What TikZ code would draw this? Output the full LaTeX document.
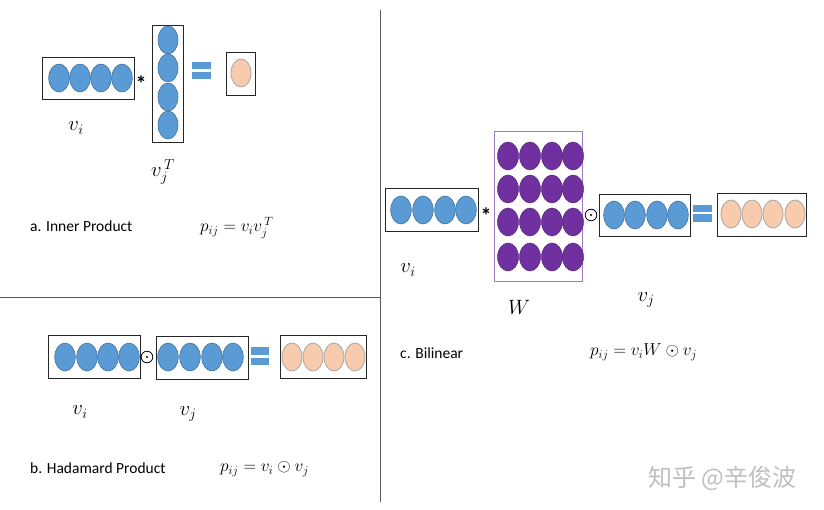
\documentclass[tikz,border=0pt]{standalone}
\usepackage{fontspec}
\setmainfont{Carlito}
\newfontfamily\cjk{Noto Sans CJK SC}
\definecolor{ballblue}{HTML}{5B9BD5}
\definecolor{edgeblue}{HTML}{41719C}
\definecolor{ballorange}{HTML}{F8CBAD}
\definecolor{edgeorange}{HTML}{A6A6A6}
\definecolor{ballpurple}{HTML}{7030A0}
\definecolor{boxpurple}{HTML}{9E7CC1}
\definecolor{linegray}{HTML}{595959}
\tikzset{
  vecbox/.style={draw=black!85, line width=0.9pt},
  wbox/.style={draw=boxpurple, line width=1pt},
  blueball/.style={fill=ballblue, draw=edgeblue, line width=0.6pt},
  orangeball/.style={fill=ballorange, draw=edgeorange, line width=0.8pt},
  purpleball/.style={fill=ballpurple, draw=ballpurple!80!black, line width=0.5pt},
  eqbar/.style={fill=ballblue, draw=none},
  lbl/.style={font=\fontsize{15.5}{18}\selectfont, anchor=west, inner sep=0},
  mathlbl/.style={font=\fontsize{21}{24}\selectfont, inner sep=0},
  formula/.style={font=\fontsize{18}{22}\selectfont, inner sep=0, anchor=west},
  opstar/.style={font=\fontsize{22}{22}\selectfont\bfseries, inner sep=0},
  divider/.style={draw=linegray, line width=0.8pt},
}
\begin{document}
\begin{tikzpicture}[x=1pt,y=-1pt]
\useasboundingbox[fill=white] (0,0) rectangle (824,510);
% dividers
\coordinate (hL) at (0,297);
\coordinate (hR) at (380,297);
\coordinate (vT) at (380,10);
\coordinate (vB) at (380,502);
\draw[divider] (hL) -- (hR);
\draw[divider] (vT) -- (vB);

% ---------- a. Inner product ----------
\draw[vecbox] (42,57) rectangle (134,99);
\foreach \x in {59,80,101,122} \draw[blueball] (\x,78) ellipse [x radius=10.3pt, y radius=14pt];
\node[opstar] (sa) at (141,84) {*};
\draw[vecbox] (152,25) rectangle (183,142);
\foreach \y in {40,68,97,125} \draw[blueball] (168,\y) ellipse [x radius=10pt, y radius=14pt];
\fill[eqbar] (192,62) rectangle (211,69);
\fill[eqbar] (192,72) rectangle (211,79);
\draw[vecbox] (226,52) rectangle (255,95);
\draw[orangeball] (241,73) ellipse [x radius=10pt, y radius=14pt];
\node[mathlbl] (lai) at (76,128) {$v_i$};
\node[mathlbl] (laj) at (163,172) {$v_{j}^{\,T}$};
\node[lbl] (ta) at (30,226) {a. Inner Product};
\node[formula] (fa) at (200,228) {$p_{ij}=v_iv_j^{\,T}$};

% ---------- b. Hadamard product ----------
\draw[vecbox] (48,335) rectangle (140,378);
\foreach \x in {65,87,108,129} \draw[blueball] (\x,357) ellipse [x radius=10.3pt, y radius=14pt];
\draw[black, line width=0.8pt] (147,357) circle [radius=5.8pt];
\fill[black] (147,357) circle [radius=1.1pt];
\draw[vecbox] (156,336) rectangle (248,379);
\foreach \x in {168,190,212,233} \draw[blueball] (\x,357) ellipse [x radius=10.3pt, y radius=14pt];
\fill[eqbar] (251,347) rectangle (269,355);
\fill[eqbar] (251,358) rectangle (269,365);
\draw[vecbox] (280,335) rectangle (366,378);
\foreach \x in {292,313,334,355} \draw[orangeball] (\x,357) ellipse [x radius=10pt, y radius=14pt];
\node[mathlbl] (lbi) at (80,412) {$v_i$};
\node[mathlbl] (lbj) at (188,414) {$v_j$};
\node[lbl] (tb) at (30,468) {b. Hadamard Product};
\node[formula] (fb) at (220,469) {$p_{ij}=v_i\odot v_j$};

% ---------- c. Bilinear ----------
\draw[vecbox] (385,188) rectangle (478,231);
\foreach \x in {401,423,445,466} \draw[blueball] (\x,210) ellipse [x radius=10.3pt, y radius=14pt];
\node[opstar] (sc) at (486,216) {*};
\draw[wbox] (494,132) rectangle (582,282);
\foreach \x in {508,530,552,573}
  \foreach \y in {156,189,222,257}
    \draw[purpleball] (\x,\y) ellipse [x radius=10.5pt, y radius=14pt];
\draw[black, line width=0.8pt] (591,215) circle [radius=5.8pt];
\fill[black] (591,215) circle [radius=1.1pt];
\draw[vecbox] (599,194) rectangle (690,236);
\foreach \x in {614,635,657,678} \draw[blueball] (\x,215) ellipse [x radius=10.3pt, y radius=14pt];
\fill[eqbar] (693,205) rectangle (712,212);
\fill[eqbar] (693,214) rectangle (712,222);
\draw[vecbox] (717,193) rectangle (806,236);
\foreach \x in {731,752,773,795} \draw[orangeball] (\x,214) ellipse [x radius=10pt, y radius=14pt];
\node[mathlbl] (lci) at (408,270) {$v_i$};
\node[mathlbl] (lcw) at (519,307) {$W$};
\node[mathlbl] (lcj) at (646,300) {$v_j$};
\node[lbl] (tc) at (400,353) {c. Bilinear};
\node[formula] (fc) at (590,352) {$p_{ij}=v_iW\odot v_j$};

% watermark
\node[font=\cjk\fontsize{24}{26}\selectfont, text=black!25, anchor=west, inner sep=0] (wm) at (648,478) {知乎 @辛俊波};
\end{tikzpicture}
\end{document}
